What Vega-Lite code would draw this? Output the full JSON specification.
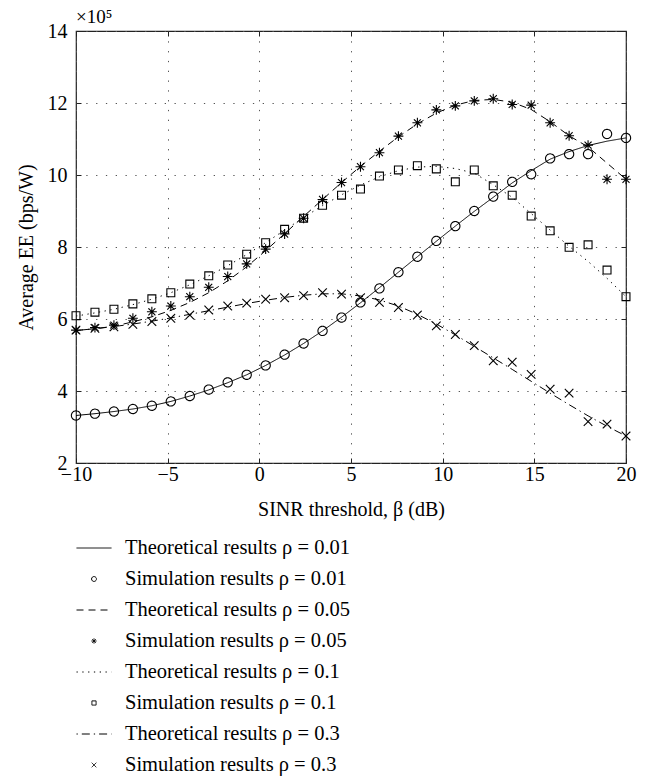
{
  "$schema": "https://vega.github.io/schema/vega-lite/v6.json",
  "width": 550,
  "height": 432,
  "autosize": {"type": "none"},
  "padding": {"left": 76, "top": 31, "right": 30, "bottom": 318},
  "title": {"text": "×10⁵", "anchor": "start", "frame": "group", "font": "Liberation Serif", "fontSize": 19, "fontWeight": "normal", "baseline": "alphabetic", "offset": 10, "dy": 31, "color": "black"},
  "config": {
    "view": {"stroke": "#222", "strokeWidth": 1.2},
    "axis": {"labelFont": "Liberation Serif", "titleFont": "Liberation Serif", "labelFontSize": 20, "titleFontSize": 20, "titleFontWeight": "normal", "labelColor": "black", "titleColor": "black", "tickColor": "#222", "tickWidth": 1, "domain": false, "gridColor": "#555", "gridDash": [1.3, 8.5], "gridOpacity": 1, "gridWidth": 1, "labelFlush": false, "labelOverlap": false},
    "legend": {"padding": 0, "orient": "none", "legendX": 0, "legendY": 499, "title": null, "direction": "vertical", "rowPadding": 2, "symbolSize": 1225, "labelOffset": 13, "labelFont": "Liberation Serif", "labelFontSize": 20.5, "labelColor": "black", "labelLimit": 500, "symbolStrokeColor": "black", "symbolFillColor": "transparent", "symbolStrokeWidth": 1, "symbolOffset": 0}
  },
  "datasets": {
    "theory": [
      {"x": -10, "y": 3.32, "series": "Theoretical results ρ = 0.01"},
      {"x": -8.966, "y": 3.37, "series": "Theoretical results ρ = 0.01"},
      {"x": -7.931, "y": 3.43, "series": "Theoretical results ρ = 0.01"},
      {"x": -6.897, "y": 3.50, "series": "Theoretical results ρ = 0.01"},
      {"x": -5.862, "y": 3.59, "series": "Theoretical results ρ = 0.01"},
      {"x": -4.828, "y": 3.71, "series": "Theoretical results ρ = 0.01"},
      {"x": -3.793, "y": 3.86, "series": "Theoretical results ρ = 0.01"},
      {"x": -2.759, "y": 4.03, "series": "Theoretical results ρ = 0.01"},
      {"x": -1.724, "y": 4.23, "series": "Theoretical results ρ = 0.01"},
      {"x": -0.690, "y": 4.45, "series": "Theoretical results ρ = 0.01"},
      {"x": 0.345, "y": 4.71, "series": "Theoretical results ρ = 0.01"},
      {"x": 1.379, "y": 5.00, "series": "Theoretical results ρ = 0.01"},
      {"x": 2.414, "y": 5.32, "series": "Theoretical results ρ = 0.01"},
      {"x": 3.448, "y": 5.67, "series": "Theoretical results ρ = 0.01"},
      {"x": 4.483, "y": 6.05, "series": "Theoretical results ρ = 0.01"},
      {"x": 5.517, "y": 6.45, "series": "Theoretical results ρ = 0.01"},
      {"x": 6.552, "y": 6.87, "series": "Theoretical results ρ = 0.01"},
      {"x": 7.586, "y": 7.30, "series": "Theoretical results ρ = 0.01"},
      {"x": 8.621, "y": 7.73, "series": "Theoretical results ρ = 0.01"},
      {"x": 9.655, "y": 8.16, "series": "Theoretical results ρ = 0.01"},
      {"x": 10.690, "y": 8.58, "series": "Theoretical results ρ = 0.01"},
      {"x": 11.724, "y": 8.99, "series": "Theoretical results ρ = 0.01"},
      {"x": 12.759, "y": 9.38, "series": "Theoretical results ρ = 0.01"},
      {"x": 13.793, "y": 9.78, "series": "Theoretical results ρ = 0.01"},
      {"x": 14.828, "y": 10.12, "series": "Theoretical results ρ = 0.01"},
      {"x": 15.862, "y": 10.44, "series": "Theoretical results ρ = 0.01"},
      {"x": 16.897, "y": 10.65, "series": "Theoretical results ρ = 0.01"},
      {"x": 17.931, "y": 10.82, "series": "Theoretical results ρ = 0.01"},
      {"x": 18.966, "y": 10.94, "series": "Theoretical results ρ = 0.01"},
      {"x": 20, "y": 11.03, "series": "Theoretical results ρ = 0.01"},
      {"x": -10, "y": 5.68, "series": "Theoretical results ρ = 0.05"},
      {"x": -8.966, "y": 5.73, "series": "Theoretical results ρ = 0.05"},
      {"x": -7.931, "y": 5.80, "series": "Theoretical results ρ = 0.05"},
      {"x": -6.897, "y": 5.92, "series": "Theoretical results ρ = 0.05"},
      {"x": -5.862, "y": 6.06, "series": "Theoretical results ρ = 0.05"},
      {"x": -4.828, "y": 6.24, "series": "Theoretical results ρ = 0.05"},
      {"x": -3.793, "y": 6.46, "series": "Theoretical results ρ = 0.05"},
      {"x": -2.759, "y": 6.73, "series": "Theoretical results ρ = 0.05"},
      {"x": -1.724, "y": 7.06, "series": "Theoretical results ρ = 0.05"},
      {"x": -0.690, "y": 7.45, "series": "Theoretical results ρ = 0.05"},
      {"x": 0.345, "y": 7.90, "series": "Theoretical results ρ = 0.05"},
      {"x": 1.379, "y": 8.37, "series": "Theoretical results ρ = 0.05"},
      {"x": 2.414, "y": 8.85, "series": "Theoretical results ρ = 0.05"},
      {"x": 3.448, "y": 9.32, "series": "Theoretical results ρ = 0.05"},
      {"x": 4.483, "y": 9.79, "series": "Theoretical results ρ = 0.05"},
      {"x": 5.517, "y": 10.24, "series": "Theoretical results ρ = 0.05"},
      {"x": 6.552, "y": 10.66, "series": "Theoretical results ρ = 0.05"},
      {"x": 7.586, "y": 11.06, "series": "Theoretical results ρ = 0.05"},
      {"x": 8.621, "y": 11.42, "series": "Theoretical results ρ = 0.05"},
      {"x": 9.655, "y": 11.72, "series": "Theoretical results ρ = 0.05"},
      {"x": 10.690, "y": 11.94, "series": "Theoretical results ρ = 0.05"},
      {"x": 11.724, "y": 12.07, "series": "Theoretical results ρ = 0.05"},
      {"x": 12.759, "y": 12.10, "series": "Theoretical results ρ = 0.05"},
      {"x": 13.793, "y": 12.02, "series": "Theoretical results ρ = 0.05"},
      {"x": 14.828, "y": 11.82, "series": "Theoretical results ρ = 0.05"},
      {"x": 15.862, "y": 11.48, "series": "Theoretical results ρ = 0.05"},
      {"x": 16.897, "y": 11.09, "series": "Theoretical results ρ = 0.05"},
      {"x": 17.931, "y": 10.78, "series": "Theoretical results ρ = 0.05"},
      {"x": 18.966, "y": 10.33, "series": "Theoretical results ρ = 0.05"},
      {"x": 20, "y": 9.88, "series": "Theoretical results ρ = 0.05"},
      {"x": -10, "y": 6.08, "series": "Theoretical results ρ = 0.1"},
      {"x": -8.966, "y": 6.17, "series": "Theoretical results ρ = 0.1"},
      {"x": -7.931, "y": 6.27, "series": "Theoretical results ρ = 0.1"},
      {"x": -6.897, "y": 6.40, "series": "Theoretical results ρ = 0.1"},
      {"x": -5.862, "y": 6.55, "series": "Theoretical results ρ = 0.1"},
      {"x": -4.828, "y": 6.73, "series": "Theoretical results ρ = 0.1"},
      {"x": -3.793, "y": 6.95, "series": "Theoretical results ρ = 0.1"},
      {"x": -2.759, "y": 7.20, "series": "Theoretical results ρ = 0.1"},
      {"x": -1.724, "y": 7.48, "series": "Theoretical results ρ = 0.1"},
      {"x": -0.690, "y": 7.79, "series": "Theoretical results ρ = 0.1"},
      {"x": 0.345, "y": 8.12, "series": "Theoretical results ρ = 0.1"},
      {"x": 1.379, "y": 8.47, "series": "Theoretical results ρ = 0.1"},
      {"x": 2.414, "y": 8.82, "series": "Theoretical results ρ = 0.1"},
      {"x": 3.448, "y": 9.15, "series": "Theoretical results ρ = 0.1"},
      {"x": 4.483, "y": 9.45, "series": "Theoretical results ρ = 0.1"},
      {"x": 5.517, "y": 9.72, "series": "Theoretical results ρ = 0.1"},
      {"x": 6.552, "y": 9.95, "series": "Theoretical results ρ = 0.1"},
      {"x": 7.586, "y": 10.12, "series": "Theoretical results ρ = 0.1"},
      {"x": 8.621, "y": 10.22, "series": "Theoretical results ρ = 0.1"},
      {"x": 9.655, "y": 10.24, "series": "Theoretical results ρ = 0.1"},
      {"x": 10.690, "y": 10.18, "series": "Theoretical results ρ = 0.1"},
      {"x": 11.724, "y": 10.05, "series": "Theoretical results ρ = 0.1"},
      {"x": 12.759, "y": 9.73, "series": "Theoretical results ρ = 0.1"},
      {"x": 13.793, "y": 9.38, "series": "Theoretical results ρ = 0.1"},
      {"x": 14.828, "y": 8.93, "series": "Theoretical results ρ = 0.1"},
      {"x": 15.862, "y": 8.47, "series": "Theoretical results ρ = 0.1"},
      {"x": 16.897, "y": 8.02, "series": "Theoretical results ρ = 0.1"},
      {"x": 17.931, "y": 7.60, "series": "Theoretical results ρ = 0.1"},
      {"x": 18.966, "y": 7.13, "series": "Theoretical results ρ = 0.1"},
      {"x": 20, "y": 6.62, "series": "Theoretical results ρ = 0.1"},
      {"x": -10, "y": 5.68, "series": "Theoretical results ρ = 0.3"},
      {"x": -8.966, "y": 5.73, "series": "Theoretical results ρ = 0.3"},
      {"x": -7.931, "y": 5.79, "series": "Theoretical results ρ = 0.3"},
      {"x": -6.897, "y": 5.86, "series": "Theoretical results ρ = 0.3"},
      {"x": -5.862, "y": 5.94, "series": "Theoretical results ρ = 0.3"},
      {"x": -4.828, "y": 6.03, "series": "Theoretical results ρ = 0.3"},
      {"x": -3.793, "y": 6.13, "series": "Theoretical results ρ = 0.3"},
      {"x": -2.759, "y": 6.23, "series": "Theoretical results ρ = 0.3"},
      {"x": -1.724, "y": 6.33, "series": "Theoretical results ρ = 0.3"},
      {"x": -0.690, "y": 6.43, "series": "Theoretical results ρ = 0.3"},
      {"x": 0.345, "y": 6.52, "series": "Theoretical results ρ = 0.3"},
      {"x": 1.379, "y": 6.60, "series": "Theoretical results ρ = 0.3"},
      {"x": 2.414, "y": 6.66, "series": "Theoretical results ρ = 0.3"},
      {"x": 3.448, "y": 6.70, "series": "Theoretical results ρ = 0.3"},
      {"x": 4.483, "y": 6.70, "series": "Theoretical results ρ = 0.3"},
      {"x": 5.517, "y": 6.64, "series": "Theoretical results ρ = 0.3"},
      {"x": 6.552, "y": 6.53, "series": "Theoretical results ρ = 0.3"},
      {"x": 7.586, "y": 6.36, "series": "Theoretical results ρ = 0.3"},
      {"x": 8.621, "y": 6.13, "series": "Theoretical results ρ = 0.3"},
      {"x": 9.655, "y": 5.86, "series": "Theoretical results ρ = 0.3"},
      {"x": 10.690, "y": 5.56, "series": "Theoretical results ρ = 0.3"},
      {"x": 11.724, "y": 5.24, "series": "Theoretical results ρ = 0.3"},
      {"x": 12.759, "y": 4.92, "series": "Theoretical results ρ = 0.3"},
      {"x": 13.793, "y": 4.60, "series": "Theoretical results ρ = 0.3"},
      {"x": 14.828, "y": 4.27, "series": "Theoretical results ρ = 0.3"},
      {"x": 15.862, "y": 3.94, "series": "Theoretical results ρ = 0.3"},
      {"x": 16.897, "y": 3.62, "series": "Theoretical results ρ = 0.3"},
      {"x": 17.931, "y": 3.31, "series": "Theoretical results ρ = 0.3"},
      {"x": 18.966, "y": 3.02, "series": "Theoretical results ρ = 0.3"},
      {"x": 20, "y": 2.75, "series": "Theoretical results ρ = 0.3"}
    ],
    "sim": [
      {"x": -10, "y": 3.32, "series": "Simulation results ρ = 0.01"},
      {"x": -8.966, "y": 3.37, "series": "Simulation results ρ = 0.01"},
      {"x": -7.931, "y": 3.43, "series": "Simulation results ρ = 0.01"},
      {"x": -6.897, "y": 3.50, "series": "Simulation results ρ = 0.01"},
      {"x": -5.862, "y": 3.59, "series": "Simulation results ρ = 0.01"},
      {"x": -4.828, "y": 3.71, "series": "Simulation results ρ = 0.01"},
      {"x": -3.793, "y": 3.86, "series": "Simulation results ρ = 0.01"},
      {"x": -2.759, "y": 4.04, "series": "Simulation results ρ = 0.01"},
      {"x": -1.724, "y": 4.24, "series": "Simulation results ρ = 0.01"},
      {"x": -0.690, "y": 4.45, "series": "Simulation results ρ = 0.01"},
      {"x": 0.345, "y": 4.71, "series": "Simulation results ρ = 0.01"},
      {"x": 1.379, "y": 5.01, "series": "Simulation results ρ = 0.01"},
      {"x": 2.414, "y": 5.32, "series": "Simulation results ρ = 0.01"},
      {"x": 3.448, "y": 5.67, "series": "Simulation results ρ = 0.01"},
      {"x": 4.483, "y": 6.04, "series": "Simulation results ρ = 0.01"},
      {"x": 5.517, "y": 6.46, "series": "Simulation results ρ = 0.01"},
      {"x": 6.552, "y": 6.85, "series": "Simulation results ρ = 0.01"},
      {"x": 7.586, "y": 7.30, "series": "Simulation results ρ = 0.01"},
      {"x": 8.621, "y": 7.73, "series": "Simulation results ρ = 0.01"},
      {"x": 9.655, "y": 8.17, "series": "Simulation results ρ = 0.01"},
      {"x": 10.690, "y": 8.58, "series": "Simulation results ρ = 0.01"},
      {"x": 11.724, "y": 9.00, "series": "Simulation results ρ = 0.01"},
      {"x": 12.759, "y": 9.40, "series": "Simulation results ρ = 0.01"},
      {"x": 13.793, "y": 9.81, "series": "Simulation results ρ = 0.01"},
      {"x": 14.828, "y": 10.02, "series": "Simulation results ρ = 0.01"},
      {"x": 15.862, "y": 10.46, "series": "Simulation results ρ = 0.01"},
      {"x": 16.897, "y": 10.58, "series": "Simulation results ρ = 0.01"},
      {"x": 17.931, "y": 10.58, "series": "Simulation results ρ = 0.01"},
      {"x": 18.966, "y": 11.14, "series": "Simulation results ρ = 0.01"},
      {"x": 20, "y": 11.03, "series": "Simulation results ρ = 0.01"},
      {"x": -10, "y": 5.69, "series": "Simulation results ρ = 0.05"},
      {"x": -8.966, "y": 5.76, "series": "Simulation results ρ = 0.05"},
      {"x": -7.931, "y": 5.83, "series": "Simulation results ρ = 0.05"},
      {"x": -6.897, "y": 6.02, "series": "Simulation results ρ = 0.05"},
      {"x": -5.862, "y": 6.20, "series": "Simulation results ρ = 0.05"},
      {"x": -4.828, "y": 6.36, "series": "Simulation results ρ = 0.05"},
      {"x": -3.793, "y": 6.62, "series": "Simulation results ρ = 0.05"},
      {"x": -2.759, "y": 6.88, "series": "Simulation results ρ = 0.05"},
      {"x": -1.724, "y": 7.18, "series": "Simulation results ρ = 0.05"},
      {"x": -0.690, "y": 7.53, "series": "Simulation results ρ = 0.05"},
      {"x": 0.345, "y": 7.94, "series": "Simulation results ρ = 0.05"},
      {"x": 1.379, "y": 8.36, "series": "Simulation results ρ = 0.05"},
      {"x": 2.414, "y": 8.80, "series": "Simulation results ρ = 0.05"},
      {"x": 3.448, "y": 9.32, "series": "Simulation results ρ = 0.05"},
      {"x": 4.483, "y": 9.79, "series": "Simulation results ρ = 0.05"},
      {"x": 5.517, "y": 10.23, "series": "Simulation results ρ = 0.05"},
      {"x": 6.552, "y": 10.62, "series": "Simulation results ρ = 0.05"},
      {"x": 7.586, "y": 11.08, "series": "Simulation results ρ = 0.05"},
      {"x": 8.621, "y": 11.45, "series": "Simulation results ρ = 0.05"},
      {"x": 9.655, "y": 11.81, "series": "Simulation results ρ = 0.05"},
      {"x": 10.690, "y": 11.92, "series": "Simulation results ρ = 0.05"},
      {"x": 11.724, "y": 12.06, "series": "Simulation results ρ = 0.05"},
      {"x": 12.759, "y": 12.12, "series": "Simulation results ρ = 0.05"},
      {"x": 13.793, "y": 11.96, "series": "Simulation results ρ = 0.05"},
      {"x": 14.828, "y": 11.94, "series": "Simulation results ρ = 0.05"},
      {"x": 15.862, "y": 11.45, "series": "Simulation results ρ = 0.05"},
      {"x": 16.897, "y": 11.09, "series": "Simulation results ρ = 0.05"},
      {"x": 17.931, "y": 10.83, "series": "Simulation results ρ = 0.05"},
      {"x": 18.966, "y": 9.88, "series": "Simulation results ρ = 0.05"},
      {"x": 20, "y": 9.88, "series": "Simulation results ρ = 0.05"},
      {"x": -10, "y": 6.09, "series": "Simulation results ρ = 0.1"},
      {"x": -8.966, "y": 6.19, "series": "Simulation results ρ = 0.1"},
      {"x": -7.931, "y": 6.27, "series": "Simulation results ρ = 0.1"},
      {"x": -6.897, "y": 6.42, "series": "Simulation results ρ = 0.1"},
      {"x": -5.862, "y": 6.56, "series": "Simulation results ρ = 0.1"},
      {"x": -4.828, "y": 6.73, "series": "Simulation results ρ = 0.1"},
      {"x": -3.793, "y": 6.97, "series": "Simulation results ρ = 0.1"},
      {"x": -2.759, "y": 7.20, "series": "Simulation results ρ = 0.1"},
      {"x": -1.724, "y": 7.50, "series": "Simulation results ρ = 0.1"},
      {"x": -0.690, "y": 7.80, "series": "Simulation results ρ = 0.1"},
      {"x": 0.345, "y": 8.12, "series": "Simulation results ρ = 0.1"},
      {"x": 1.379, "y": 8.49, "series": "Simulation results ρ = 0.1"},
      {"x": 2.414, "y": 8.80, "series": "Simulation results ρ = 0.1"},
      {"x": 3.448, "y": 9.16, "series": "Simulation results ρ = 0.1"},
      {"x": 4.483, "y": 9.44, "series": "Simulation results ρ = 0.1"},
      {"x": 5.517, "y": 9.61, "series": "Simulation results ρ = 0.1"},
      {"x": 6.552, "y": 9.97, "series": "Simulation results ρ = 0.1"},
      {"x": 7.586, "y": 10.14, "series": "Simulation results ρ = 0.1"},
      {"x": 8.621, "y": 10.26, "series": "Simulation results ρ = 0.1"},
      {"x": 9.655, "y": 10.17, "series": "Simulation results ρ = 0.1"},
      {"x": 10.690, "y": 9.81, "series": "Simulation results ρ = 0.1"},
      {"x": 11.724, "y": 10.14, "series": "Simulation results ρ = 0.1"},
      {"x": 12.759, "y": 9.70, "series": "Simulation results ρ = 0.1"},
      {"x": 13.793, "y": 9.44, "series": "Simulation results ρ = 0.1"},
      {"x": 14.828, "y": 8.86, "series": "Simulation results ρ = 0.1"},
      {"x": 15.862, "y": 8.45, "series": "Simulation results ρ = 0.1"},
      {"x": 16.897, "y": 7.99, "series": "Simulation results ρ = 0.1"},
      {"x": 17.931, "y": 8.06, "series": "Simulation results ρ = 0.1"},
      {"x": 18.966, "y": 7.36, "series": "Simulation results ρ = 0.1"},
      {"x": 20, "y": 6.62, "series": "Simulation results ρ = 0.1"},
      {"x": -10, "y": 5.69, "series": "Simulation results ρ = 0.3"},
      {"x": -8.966, "y": 5.74, "series": "Simulation results ρ = 0.3"},
      {"x": -7.931, "y": 5.78, "series": "Simulation results ρ = 0.3"},
      {"x": -6.897, "y": 5.85, "series": "Simulation results ρ = 0.3"},
      {"x": -5.862, "y": 5.93, "series": "Simulation results ρ = 0.3"},
      {"x": -4.828, "y": 6.02, "series": "Simulation results ρ = 0.3"},
      {"x": -3.793, "y": 6.11, "series": "Simulation results ρ = 0.3"},
      {"x": -2.759, "y": 6.25, "series": "Simulation results ρ = 0.3"},
      {"x": -1.724, "y": 6.36, "series": "Simulation results ρ = 0.3"},
      {"x": -0.690, "y": 6.44, "series": "Simulation results ρ = 0.3"},
      {"x": 0.345, "y": 6.55, "series": "Simulation results ρ = 0.3"},
      {"x": 1.379, "y": 6.59, "series": "Simulation results ρ = 0.3"},
      {"x": 2.414, "y": 6.65, "series": "Simulation results ρ = 0.3"},
      {"x": 3.448, "y": 6.73, "series": "Simulation results ρ = 0.3"},
      {"x": 4.483, "y": 6.69, "series": "Simulation results ρ = 0.3"},
      {"x": 5.517, "y": 6.59, "series": "Simulation results ρ = 0.3"},
      {"x": 6.552, "y": 6.46, "series": "Simulation results ρ = 0.3"},
      {"x": 7.586, "y": 6.32, "series": "Simulation results ρ = 0.3"},
      {"x": 8.621, "y": 6.11, "series": "Simulation results ρ = 0.3"},
      {"x": 9.655, "y": 5.81, "series": "Simulation results ρ = 0.3"},
      {"x": 10.690, "y": 5.57, "series": "Simulation results ρ = 0.3"},
      {"x": 11.724, "y": 5.26, "series": "Simulation results ρ = 0.3"},
      {"x": 12.759, "y": 4.84, "series": "Simulation results ρ = 0.3"},
      {"x": 13.793, "y": 4.80, "series": "Simulation results ρ = 0.3"},
      {"x": 14.828, "y": 4.46, "series": "Simulation results ρ = 0.3"},
      {"x": 15.862, "y": 4.05, "series": "Simulation results ρ = 0.3"},
      {"x": 16.897, "y": 3.94, "series": "Simulation results ρ = 0.3"},
      {"x": 17.931, "y": 3.15, "series": "Simulation results ρ = 0.3"},
      {"x": 18.966, "y": 3.08, "series": "Simulation results ρ = 0.3"},
      {"x": 20, "y": 2.75, "series": "Simulation results ρ = 0.3"}
    ]
  },
  "layer": [
    {
      "data": {"name": "theory"},
      "mark": {"type": "line", "color": "black", "strokeWidth": 1},
      "encoding": {
        "x": {"field": "x", "type": "quantitative", "scale": {"domain": [-10, 20], "nice": false, "zero": false},
              "axis": {"orient": "bottom", "values": [-10, -5, 0, 5, 10, 15, 20], "title": "SINR threshold, β (dB)", "grid": true, "tickSize": -5, "labelPadding": 6, "titleY": 52, "titleBaseline": "alphabetic"}},
        "y": {"field": "y", "type": "quantitative", "scale": {"domain": [2, 14], "nice": false, "zero": false},
              "axis": {"orient": "left", "values": [2, 4, 6, 8, 10, 12, 14], "title": "Average EE (bps/W)", "grid": true, "tickSize": -5, "labelPadding": 14, "titleX": -44, "titleBaseline": "alphabetic"}},
        "strokeDash": {"field": "series", "type": "nominal",
          "scale": {"domain": ["Theoretical results ρ = 0.01", "Simulation results ρ = 0.01", "Theoretical results ρ = 0.05", "Simulation results ρ = 0.05", "Theoretical results ρ = 0.1", "Simulation results ρ = 0.1", "Theoretical results ρ = 0.3", "Simulation results ρ = 0.3"],
                    "range": [[1, 0], [1, 0], [7, 5], [1, 0], [1.3, 4.5], [1, 0], [1.3, 4, 8, 4], [1, 0]]}}
      }
    },
    {
      "data": {"name": "sim"},
      "mark": {"type": "point", "filled": false, "color": "black", "strokeWidth": 1.1, "size": 4356, "opacity": 1},
      "encoding": {
        "x": {"field": "x", "type": "quantitative",
              "axis": {"orient": "top", "values": [-10, -5, 0, 5, 10, 15, 20], "labels": false, "grid": false, "tickSize": -5, "title": null}},
        "y": {"field": "y", "type": "quantitative",
              "axis": {"orient": "right", "values": [2, 4, 6, 8, 10, 12, 14], "labels": false, "grid": false, "tickSize": -5, "title": null}},
        "shape": {"field": "series", "type": "nominal",
          "scale": {"domain": ["Theoretical results ρ = 0.01", "Simulation results ρ = 0.01", "Theoretical results ρ = 0.05", "Simulation results ρ = 0.05", "Theoretical results ρ = 0.1", "Simulation results ρ = 0.1", "Theoretical results ρ = 0.3", "Simulation results ρ = 0.3"],
                    "range": ["M-1,0H1", "M-0.14,0A0.14,0.14,0,1,1,0.14,0A0.14,0.14,0,1,1,-0.14,0Z", "M-1,0H1", "M-0.15,0H0.15M0,-0.15V0.15M-0.106,-0.106L0.106,0.106M-0.106,0.106L0.106,-0.106", "M-1,0H1", "M-0.12,-0.12H0.12V0.12H-0.12Z", "M-1,0H1", "M-0.13,-0.13L0.13,0.13M-0.13,0.13L0.13,-0.13"]}},
        "strokeDash": {"field": "series", "type": "nominal"}
      }
    }
  ]
}
